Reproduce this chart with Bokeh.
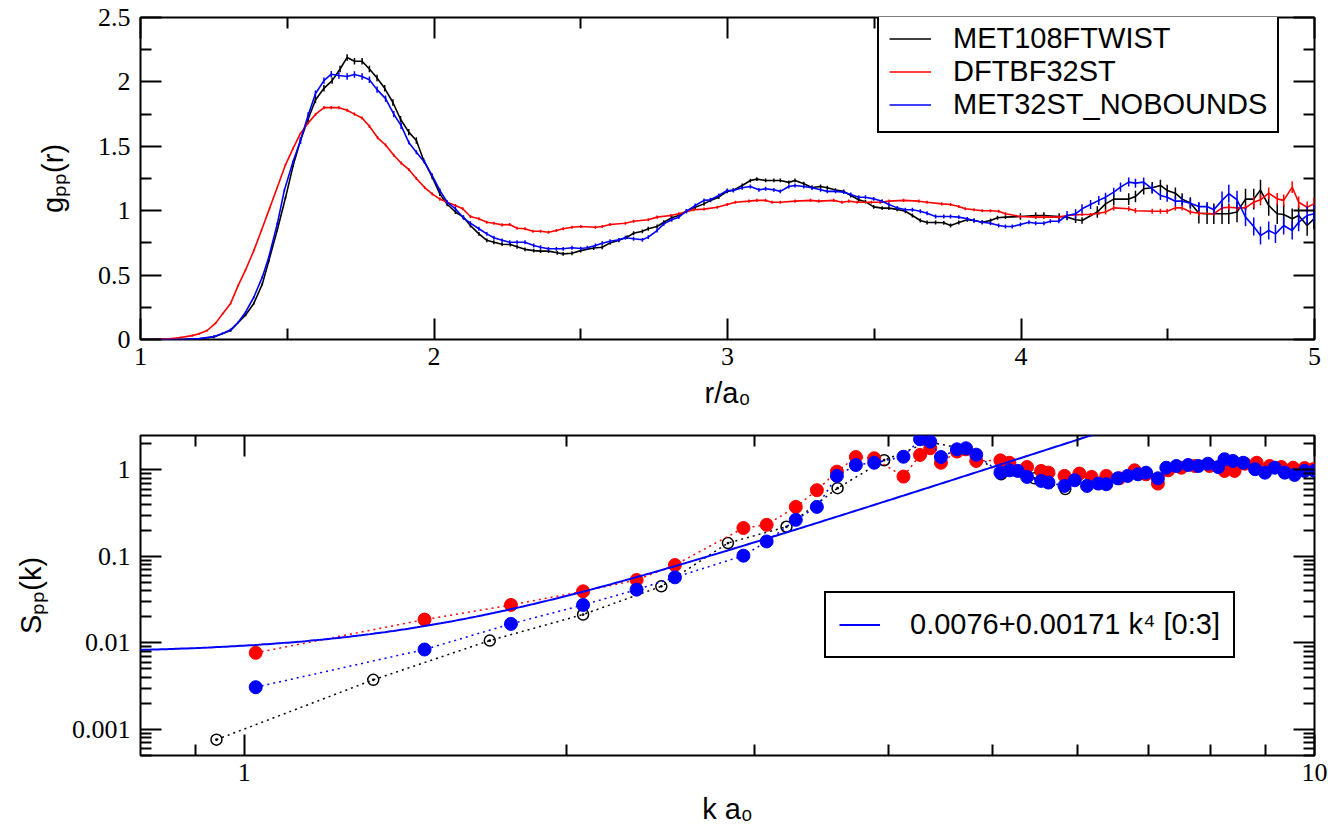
import numpy as np
from bokeh.plotting import figure
from bokeh.models import (LinearAxis, LogAxis, FixedTicker, CustomJSTickFormatter,
                          Range1d, Legend, LegendItem)
from bokeh.layouts import column
from bokeh.embed import file_html
from bokeh.resources import INLINE

SANS = "Liberation Sans"
SERIF = "Liberation Serif"

# ---------------- top panel: g_pp(r) ----------------
met108_r = [
    1.00, 1.05, 1.10, 1.15, 1.20, 1.25, 1.307, 1.358, 1.386, 1.415,
    1.437, 1.466, 1.494, 1.520, 1.545, 1.571, 1.596, 1.625, 1.653, 1.680,
    1.704, 1.729, 1.755, 1.780, 1.806, 1.832, 1.860, 1.886, 1.914, 1.940,
    1.965, 1.994, 2.020, 2.045, 2.073, 2.100, 2.124, 2.153, 2.180, 2.204,
    2.232, 2.260, 2.283, 2.310, 2.340, 2.363, 2.390, 2.420, 2.440, 2.470,
    2.500, 2.544, 2.573, 2.600, 2.630, 2.658, 2.680, 2.710, 2.730, 2.760,
    2.783, 2.810, 2.834, 2.860, 2.890, 2.920, 2.942, 2.970, 2.999, 3.020,
    3.050, 3.078, 3.100, 3.130, 3.158, 3.180, 3.209, 3.230, 3.260, 3.288,
    3.317, 3.340, 3.368, 3.396, 3.420, 3.447, 3.470, 3.498, 3.527, 3.550,
    3.578, 3.606, 3.630, 3.657, 3.680, 3.709, 3.737, 3.760, 3.788, 3.817,
    3.840, 3.868, 3.896, 3.920, 3.947, 3.998, 4.050, 4.078, 4.130, 4.157,
    4.186, 4.208, 4.260, 4.288, 4.316, 4.367, 4.390, 4.418, 4.447, 4.475,
    4.498, 4.526, 4.549, 4.577, 4.606, 4.634, 4.657, 4.685, 4.708, 4.736,
    4.765, 4.793, 4.816, 4.844, 4.873, 4.895, 4.924, 4.946, 4.975, 4.998]
met108_g = [
    0.000, 0.000, 0.000, 0.002, 0.006, 0.020, 0.070, 0.190, 0.280, 0.430,
    0.610, 0.850, 1.100, 1.350, 1.545, 1.710, 1.860, 1.950, 2.010, 2.100,
    2.190, 2.160, 2.160, 2.100, 2.030, 1.950, 1.840, 1.710, 1.610, 1.545,
    1.390, 1.260, 1.130, 1.050, 0.990, 0.950, 0.885, 0.820, 0.770, 0.755,
    0.740, 0.738, 0.720, 0.700, 0.690, 0.686, 0.686, 0.673, 0.665, 0.670,
    0.690, 0.710, 0.716, 0.750, 0.770, 0.795, 0.825, 0.840, 0.860, 0.877,
    0.910, 0.945, 0.963, 0.996, 1.027, 1.053, 1.080, 1.105, 1.150, 1.160,
    1.196, 1.234, 1.245, 1.235, 1.235, 1.235, 1.220, 1.235, 1.210, 1.180,
    1.188, 1.178, 1.160, 1.150, 1.118, 1.085, 1.070, 1.030, 1.020, 1.020,
    1.010, 0.996, 0.963, 0.924, 0.908, 0.908, 0.906, 0.885, 0.908, 0.930,
    0.924, 0.910, 0.924, 0.945, 0.950, 0.955, 0.963, 0.963, 0.955, 0.950,
    0.930, 0.924, 0.990, 1.053, 1.090, 1.090, 1.110, 1.170, 1.178, 1.196,
    1.157, 1.136, 1.090, 1.060, 0.980, 0.976, 0.976, 0.976, 0.976, 0.990,
    1.090, 1.090, 1.160, 1.040, 0.976, 0.970, 0.937, 0.963, 0.885, 0.937]
met108_err = ([0.0] * 5 + [0.01] * 9 + [0.025] * 16 + [0.015] * 75
              + [0.025] * 7 + [0.045] * 12 + [0.08] * 16)

dftb_r = [
    1.00, 1.05, 1.10, 1.136, 1.176, 1.200, 1.227, 1.256, 1.280, 1.307,
    1.333, 1.358, 1.386, 1.412, 1.440, 1.466, 1.494, 1.519, 1.545, 1.571,
    1.596, 1.625, 1.650, 1.676, 1.704, 1.729, 1.755, 1.780, 1.808, 1.835,
    1.863, 1.888, 1.914, 1.940, 1.968, 1.994, 2.020, 2.045, 2.073, 2.098,
    2.124, 2.153, 2.180, 2.204, 2.232, 2.258, 2.283, 2.310, 2.337, 2.363,
    2.390, 2.417, 2.440, 2.470, 2.500, 2.550, 2.573, 2.600, 2.652, 2.680,
    2.730, 2.760, 2.806, 2.834, 2.885, 2.920, 2.965, 2.999, 3.027, 3.073,
    3.100, 3.130, 3.152, 3.180, 3.230, 3.283, 3.311, 3.362, 3.390, 3.413,
    3.442, 3.490, 3.520, 3.550, 3.600, 3.652, 3.680, 3.730, 3.760, 3.788,
    3.810, 3.840, 3.868, 3.896, 3.924, 3.947, 3.998, 4.050, 4.078, 4.129,
    4.157, 4.208, 4.237, 4.265, 4.288, 4.316, 4.367, 4.390, 4.447, 4.475,
    4.498, 4.526, 4.549, 4.577, 4.606, 4.657, 4.685, 4.708, 4.736, 4.765,
    4.793, 4.816, 4.844, 4.873, 4.895, 4.924, 4.946, 4.975, 4.998]
dftb_g = [
    0.000, 0.002, 0.006, 0.015, 0.030, 0.044, 0.070, 0.127, 0.200, 0.280,
    0.420, 0.540, 0.690, 0.846, 1.020, 1.180, 1.356, 1.480, 1.600, 1.680,
    1.747, 1.800, 1.800, 1.800, 1.780, 1.750, 1.720, 1.655, 1.566, 1.510,
    1.430, 1.370, 1.320, 1.250, 1.180, 1.130, 1.090, 1.066, 1.040, 1.015,
    0.955, 0.937, 0.910, 0.903, 0.890, 0.893, 0.864, 0.860, 0.840, 0.840,
    0.833, 0.846, 0.860, 0.872, 0.877, 0.872, 0.877, 0.893, 0.903, 0.918,
    0.930, 0.950, 0.963, 0.976, 1.007, 1.012, 1.027, 1.048, 1.066, 1.074,
    1.080, 1.080, 1.066, 1.066, 1.074, 1.080, 1.074, 1.080, 1.066, 1.074,
    1.066, 1.066, 1.066, 1.074, 1.080, 1.074, 1.066, 1.053, 1.048, 1.032,
    1.015, 1.007, 1.000, 1.000, 0.996, 0.976, 0.955, 0.950, 0.950, 0.950,
    0.963, 0.970, 0.970, 0.980, 0.990, 1.022, 1.015, 1.000, 0.996, 0.996,
    0.996, 1.022, 1.022, 0.990, 0.980, 0.976, 1.022, 1.027, 1.022, 1.022,
    1.066, 1.085, 1.136, 1.092, 1.080, 1.183, 1.066, 1.027, 1.053]
dftb_err = [0.0] * 3 + [0.008] * 17 + [0.012] * 84 + [0.02] * 16 + [0.045] * 9

met32_r = [
    1.00, 1.05, 1.10, 1.15, 1.20, 1.25, 1.278, 1.307, 1.333, 1.358,
    1.386, 1.415, 1.437, 1.466, 1.490, 1.519, 1.545, 1.571, 1.596, 1.625,
    1.650, 1.676, 1.704, 1.729, 1.755, 1.780, 1.806, 1.835, 1.863, 1.888,
    1.914, 1.940, 1.968, 1.994, 2.020, 2.045, 2.073, 2.100, 2.124, 2.153,
    2.180, 2.204, 2.232, 2.258, 2.283, 2.310, 2.340, 2.363, 2.390, 2.417,
    2.440, 2.470, 2.500, 2.522, 2.550, 2.573, 2.600, 2.630, 2.652, 2.680,
    2.710, 2.730, 2.760, 2.783, 2.810, 2.834, 2.860, 2.890, 2.920, 2.942,
    2.970, 2.999, 3.020, 3.050, 3.078, 3.107, 3.130, 3.158, 3.180, 3.209,
    3.230, 3.260, 3.288, 3.317, 3.340, 3.368, 3.396, 3.420, 3.447, 3.470,
    3.498, 3.527, 3.550, 3.578, 3.606, 3.630, 3.657, 3.680, 3.709, 3.737,
    3.760, 3.788, 3.817, 3.840, 3.868, 3.896, 3.924, 3.947, 3.970, 3.998,
    4.027, 4.050, 4.078, 4.100, 4.129, 4.157, 4.186, 4.208, 4.237, 4.265,
    4.288, 4.316, 4.339, 4.367, 4.390, 4.418, 4.447, 4.475, 4.498, 4.526,
    4.549, 4.577, 4.606, 4.634, 4.657, 4.685, 4.708, 4.736, 4.765, 4.793,
    4.816, 4.844, 4.867, 4.895, 4.924, 4.946, 4.975, 4.998]
met32_g = [
    0.000, 0.000, 0.000, 0.002, 0.007, 0.023, 0.044, 0.075, 0.134, 0.212,
    0.328, 0.484, 0.639, 0.898, 1.157, 1.377, 1.545, 1.739, 1.908, 2.010,
    2.060, 2.050, 2.042, 2.057, 2.042, 2.016, 1.940, 1.870, 1.750, 1.660,
    1.530, 1.454, 1.377, 1.273, 1.157, 1.066, 1.015, 0.945, 0.903, 0.860,
    0.820, 0.790, 0.770, 0.755, 0.755, 0.755, 0.730, 0.716, 0.704, 0.704,
    0.704, 0.712, 0.706, 0.712, 0.730, 0.748, 0.763, 0.774, 0.790, 0.782,
    0.774, 0.795, 0.846, 0.898, 0.930, 0.950, 0.996, 1.040, 1.080, 1.085,
    1.118, 1.157, 1.157, 1.178, 1.188, 1.162, 1.170, 1.162, 1.150, 1.188,
    1.196, 1.188, 1.178, 1.162, 1.150, 1.150, 1.144, 1.126, 1.105, 1.105,
    1.092, 1.074, 1.048, 1.022, 1.007, 1.007, 0.996, 0.980, 0.955, 0.955,
    0.955, 0.950, 0.937, 0.924, 0.910, 0.903, 0.885, 0.877, 0.877, 0.893,
    0.910, 0.903, 0.903, 0.918, 0.918, 0.963, 0.976, 1.015, 1.048, 1.080,
    1.105, 1.144, 1.183, 1.222, 1.214, 1.222, 1.170, 1.118, 1.105, 1.074,
    1.074, 1.058, 1.032, 1.032, 1.007, 1.080, 1.132, 1.085, 0.950, 0.877,
    0.807, 0.846, 0.820, 0.885, 0.846, 0.910, 0.963, 0.976]
met32_err = ([0.0] * 5 + [0.01] * 11 + [0.025] * 14 + [0.015] * 85
             + [0.035] * 20 + [0.07] * 13)

top_series_names = ["MET108FTWIST", "DFTBF32ST", "MET32ST_NOBOUNDS"]
top_x_label = "r/a\u2080"
top_y_label = "g\u209a\u209a(r)"
top_x_ticks = [1, 2, 3, 4, 5]
top_x_minor = [1.5, 2.5, 3.5, 4.5]
top_y_ticks = [0, 0.5, 1, 1.5, 2, 2.5]
top_y_minor = [0.25, 0.75, 1.25, 1.75, 2.25]

# ---------------- bottom panel: S_pp(k) ----------------
met108_k = [0.942, 1.320, 1.696, 2.073, 2.453, 2.831, 3.211, 3.584, 3.962,
            4.360, 4.720, 5.095, 5.474, 5.850]
met108_s = [0.000762, 0.00375, 0.01066, 0.0213, 0.0451, 0.1428, 0.2203, 0.615,
            1.294, 2.10, 1.75, 0.892, 0.800, 0.600]

dftb_k = [1.025, 1.474, 1.775, 2.073, 2.326, 2.526, 2.927, 3.077, 3.276, 3.428,
          3.579, 3.728, 3.878, 4.130, 4.280, 4.375, 4.477, 4.634, 4.725, 4.830,
          5.088, 5.187, 5.388, 5.554, 5.642, 5.840, 6.030, 6.190, 6.390, 6.570,
          6.790, 6.960, 7.140, 7.300, 7.510, 7.730, 7.980, 8.240, 8.420, 8.610,
          8.830, 9.080, 9.310, 9.550, 9.790, 9.970]
dftb_s = [0.00769, 0.01862, 0.0275, 0.0395, 0.0534, 0.0796, 0.213, 0.232, 0.374, 0.583,
          0.956, 1.41, 1.364, 0.837, 1.49, 1.78, 1.21, 1.63, 1.73, 1.27,
          1.29, 1.21, 1.08, 0.974, 0.93, 0.853, 0.907, 0.830, 0.853, 0.800,
          0.990, 0.890, 0.695, 0.990, 1.060, 1.110, 1.110, 0.974, 0.974, 1.180,
          1.210, 1.110, 1.080, 1.060, 1.050, 1.020]

met32_k = [1.025, 1.474, 1.775, 2.073, 2.326, 2.526, 2.927, 3.077, 3.276, 3.428,
           3.579, 3.728, 3.878, 4.130, 4.280, 4.375, 4.477, 4.634, 4.725, 4.830,
           5.088, 5.187, 5.280, 5.388, 5.554, 5.642, 5.840, 5.970, 6.130, 6.280,
           6.390, 6.550, 6.690, 6.840, 6.960, 7.140, 7.270, 7.430, 7.620, 7.790,
           7.950, 8.130, 8.240, 8.390, 8.580, 8.800, 8.990, 9.180, 9.380, 9.580,
           9.790, 10.00]
met32_s = [0.00308, 0.0084, 0.0166, 0.0275, 0.0413, 0.0573, 0.102, 0.149, 0.265, 0.374,
           0.853, 1.14, 1.21, 1.42, 2.26, 2.12, 1.41, 1.73, 1.78, 1.50,
           0.93, 0.99, 0.974, 0.83, 0.747, 0.714, 0.654, 0.760, 0.654, 0.695,
           0.684, 0.800, 0.853, 0.890, 0.930, 0.800, 1.060, 1.110, 1.140, 1.110,
           1.180, 1.080, 1.330, 1.270, 1.210, 1.020, 0.930, 1.060, 0.930, 0.875,
           0.974, 0.974]

fit_a = 0.0076
fit_b = 0.00171
fit_label = "0.0076+0.00171 k\u2074 [0:3]"

bot_x_label = "k a\u2080"
bot_y_label = "S\u209a\u209a(k)"
bot_x_ticks = [1, 10]
bot_x_minor = [0.9, 2, 3, 4, 5, 6, 7, 8, 9]
bot_y_ticks = [0.001, 0.01, 0.1, 1]
bot_y_minor = [0.0005, 0.0006, 0.0007, 0.0008, 0.0009,
               0.002, 0.003, 0.004, 0.005, 0.006, 0.007, 0.008, 0.009,
               0.02, 0.03, 0.04, 0.05, 0.06, 0.07, 0.08, 0.09,
               0.2, 0.3, 0.4, 0.5, 0.6, 0.7, 0.8, 0.9, 2]

BLACK, RED, BLUE = "#000000", "#ff0000", "#0000ff"


def style_axis(ax, ticks, minor, show, standoff, label=None, label_standoff=0):
    ax.ticker = FixedTicker(ticks=ticks, minor_ticks=minor)
    if show:
        ax.formatter = CustomJSTickFormatter(code="return String(tick);")
        ax.major_label_text_font_size = "26px"
        ax.major_label_standoff = standoff
    else:
        ax.formatter = CustomJSTickFormatter(code="return '';")
        ax.major_label_text_font_size = "0px"
        ax.major_label_standoff = 0
    ax.major_label_text_font = SERIF
    ax.major_label_text_color = "black"
    ax.axis_line_color = None
    ax.major_tick_in = 21
    ax.major_tick_out = 0
    ax.minor_tick_in = 11
    ax.minor_tick_out = 0
    ax.major_tick_line_color = "black"
    ax.minor_tick_line_color = "black"
    ax.major_tick_line_width = 2
    ax.minor_tick_line_width = 2
    if label:
        ax.axis_label = label
        ax.axis_label_text_font = SANS
        ax.axis_label_text_font_size = "29px"
        ax.axis_label_text_font_style = "normal"
        ax.axis_label_text_color = "black"
        ax.axis_label_standoff = label_standoff
    else:
        ax.axis_label = None


# ---------------- figure 1 ----------------
p1 = figure(width=1328, height=412, x_range=Range1d(1, 5), y_range=Range1d(0, 2.5),
            output_backend="svg", toolbar_location=None,
            min_border_left=140, min_border_right=14, min_border_top=17, min_border_bottom=73)
p1.xgrid.visible = False
p1.ygrid.visible = False
p1.outline_line_color = "black"
p1.outline_line_width = 2
p1.background_fill_color = "white"
p1.border_fill_color = "white"

style_axis(p1.xaxis[0], top_x_ticks, top_x_minor, True, 8, top_x_label, 9)
style_axis(p1.yaxis[0], top_y_ticks, top_y_minor, True, 10, top_y_label, 26)
ax_top = LinearAxis()
style_axis(ax_top, top_x_ticks, top_x_minor, False, 0)
p1.add_layout(ax_top, "above")
ax_right = LinearAxis()
style_axis(ax_right, top_y_ticks, top_y_minor, False, 0)
p1.add_layout(ax_right, "right")

renderers = []
for r, g, e, col in [(met108_r, met108_g, met108_err, BLACK),
                     (dftb_r, dftb_g, dftb_err, RED),
                     (met32_r, met32_g, met32_err, BLUE)]:
    ra = np.array(r)
    ga = np.array(g)
    ea = np.array(e)
    ln = p1.line(ra, ga, line_color=col, line_width=1.6)
    p1.segment(ra, ga - ea, ra, ga + ea, line_color=col, line_width=1.5)
    renderers.append(ln)

leg1 = Legend(items=[LegendItem(label=n, renderers=[rd]) for n, rd in zip(top_series_names, renderers)],
              location=(737, 206), orientation="vertical",
              label_text_font=SANS, label_text_font_size="29px", label_text_color="black",
              glyph_width=42, glyph_height=33, label_height=33, label_standoff=22,
              spacing=0, padding=10, margin=0,
              border_line_color="black", border_line_width=2, border_line_alpha=1,
              background_fill_color="white", background_fill_alpha=1)
p1.add_layout(leg1)

# ---------------- figure 2 ----------------
p2 = figure(width=1328, height=417, x_axis_type="log", y_axis_type="log",
            x_range=Range1d(0.8, 10), y_range=Range1d(0.0005, 2.5),
            output_backend="svg", toolbar_location=None,
            min_border_left=140, min_border_right=14, min_border_top=23, min_border_bottom=74)
p2.xgrid.visible = False
p2.ygrid.visible = False
p2.outline_line_color = "black"
p2.outline_line_width = 2
p2.background_fill_color = "white"
p2.border_fill_color = "white"

style_axis(p2.xaxis[0], bot_x_ticks, bot_x_minor, True, 8, bot_x_label, 9)
style_axis(p2.yaxis[0], bot_y_ticks, bot_y_minor, True, 10, bot_y_label, 22)
ax2_top = LogAxis()
style_axis(ax2_top, bot_x_ticks, bot_x_minor, False, 0)
p2.add_layout(ax2_top, "above")
ax2_right = LogAxis()
style_axis(ax2_right, bot_y_ticks, bot_y_minor, False, 0)
p2.add_layout(ax2_right, "right")

# black open circles with dot
p2.line(met108_k, met108_s, line_color=BLACK, line_width=1.5, line_dash="2 4")
p2.scatter(met108_k, met108_s, marker="circle_dot", size=11, fill_color=None,
           line_color=BLACK, line_width=1.5)
# red
p2.line(dftb_k, dftb_s, line_color=RED, line_width=1.5, line_dash="2 4")
p2.scatter(dftb_k, dftb_s, marker="circle", size=13, fill_color=RED, line_color=RED)
# blue
p2.line(met32_k, met32_s, line_color=BLUE, line_width=1.5, line_dash="2 4")
p2.scatter(met32_k, met32_s, marker="circle", size=13, fill_color=BLUE, line_color=BLUE)

# fit curve S = a + b k^4
k_fit = np.geomspace(0.8, 10, 400)
s_fit = fit_a + fit_b * k_fit ** 4
fit_r = p2.line(k_fit, s_fit, line_color=BLUE, line_width=2)

leg2 = Legend(items=[LegendItem(label=fit_label, renderers=[fit_r])],
              location=(684, 97), orientation="vertical",
              label_text_font=SANS, label_text_font_size="29px", label_text_color="black",
              glyph_width=41, glyph_height=37, label_height=37, label_standoff=30,
              spacing=0, padding=13, margin=0,
              border_line_color="black", border_line_width=2, border_line_alpha=1,
              background_fill_color="white", background_fill_alpha=1)
p2.add_layout(leg2)

layout = column(p1, p2, spacing=0)
open("out.html", "w").write(file_html(layout, INLINE))
